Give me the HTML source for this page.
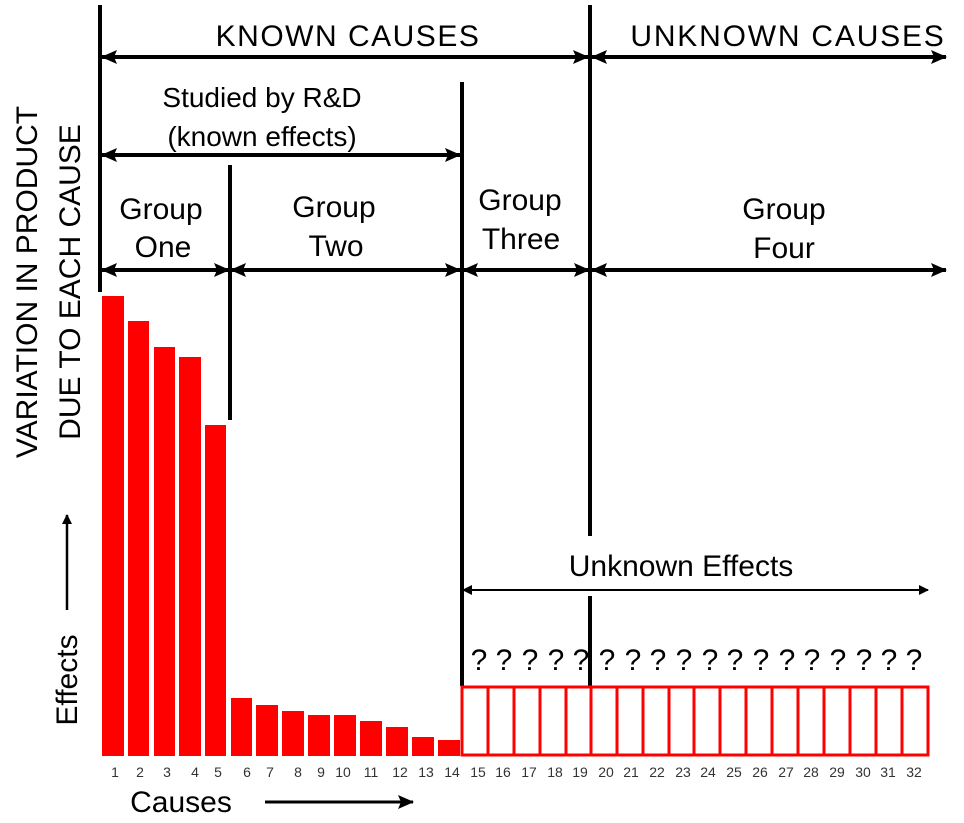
<!DOCTYPE html>
<html><head><style>body{margin:0;background:#fff}</style></head><body>
<svg width="964" height="818" xmlns="http://www.w3.org/2000/svg" font-family="Liberation Sans, sans-serif">
<defs>
<marker id="a" markerWidth="10" markerHeight="10" refX="9" refY="5" orient="auto-start-reverse" markerUnits="userSpaceOnUse"><path d="M0,0 L10,5 L0,10 z" fill="#000"/></marker>
<marker id="b" markerWidth="16" markerHeight="14" refX="15" refY="7" orient="auto-start-reverse" markerUnits="userSpaceOnUse"><path d="M0,0 L16,7 L0,14 L3,7 z" fill="#000"/></marker>
</defs>
<g stroke="#000" stroke-width="4">
<line x1="100" y1="5" x2="100" y2="292"/>
<line x1="462" y1="82" x2="462" y2="686"/>
<line x1="590" y1="5" x2="590" y2="536"/>
<line x1="590" y1="596" x2="590" y2="686"/>
<line x1="230" y1="165" x2="230" y2="420"/>
<line x1="102" y1="57" x2="588" y2="57" marker-start="url(#b)" marker-end="url(#b)"/>
<line x1="592" y1="57" x2="946" y2="57" marker-start="url(#b)" marker-end="url(#b)"/>
<line x1="102" y1="155" x2="460" y2="155" marker-start="url(#b)" marker-end="url(#b)"/>
<line x1="102" y1="270" x2="229" y2="270" marker-start="url(#b)" marker-end="url(#b)"/>
<line x1="231" y1="270" x2="460" y2="270" marker-start="url(#b)" marker-end="url(#b)"/>
<line x1="463" y1="270" x2="589" y2="270" marker-start="url(#b)" marker-end="url(#b)"/>
<line x1="592" y1="270" x2="946" y2="270" marker-start="url(#b)" marker-end="url(#b)"/>
<line x1="265" y1="802" x2="413" y2="802" stroke-width="3" marker-end="url(#b)"/>
</g>
<line x1="463" y1="590" x2="928" y2="590" stroke="#000" stroke-width="2" marker-start="url(#a)" marker-end="url(#a)"/>
<line x1="67" y1="610" x2="67" y2="515" stroke="#000" stroke-width="2.5" marker-end="url(#a)"/>
<g fill="#f00">
<rect x="102" y="296" width="22" height="460"/>
<rect x="128" y="321" width="21" height="435"/>
<rect x="154" y="347" width="21" height="409"/>
<rect x="179" y="357" width="22" height="399"/>
<rect x="205" y="425" width="21" height="331"/>
<rect x="231" y="698" width="21" height="58"/>
<rect x="256" y="705" width="22" height="51"/>
<rect x="282" y="711" width="22" height="45"/>
<rect x="308" y="715" width="22" height="41"/>
<rect x="334" y="715" width="22" height="41"/>
<rect x="360" y="721" width="22" height="35"/>
<rect x="386" y="727" width="22" height="29"/>
<rect x="412" y="737" width="22" height="19"/>
<rect x="438" y="740" width="22" height="16"/>
</g>
<g fill="none" stroke="#f00" stroke-width="3">
<rect x="462" y="687" width="466" height="68"/>
<path d="M488,687V755M514,687V755M540,687V755M566,687V755M591,687V755M617,687V755M643,687V755M669,687V755M694,687V755M720,687V755M746,687V755M772,687V755M798,687V755M824,687V755M850,687V755M876,687V755M902,687V755"/>
</g>
<g font-size="30" text-anchor="middle" fill="#000">
<text x="348" y="46" letter-spacing="1.5">KNOWN  CAUSES</text>
<text x="788" y="46" letter-spacing="1.8">UNKNOWN  CAUSES</text>
<text x="262" y="107" font-size="28">Studied by R&amp;D</text>
<text x="262" y="146" font-size="28">(known effects)</text>
<text x="161" y="219">Group</text><text x="163" y="257">One</text>
<text x="334" y="217">Group</text><text x="336" y="256">Two</text>
<text x="520" y="210">Group</text><text x="521" y="249">Three</text>
<text x="784" y="219">Group</text><text x="784" y="258">Four</text>
<text x="681" y="576">Unknown Effects</text>
<text x="181" y="812">Causes</text>
</g>
<g font-size="30" text-anchor="middle" fill="#000">
<text x="479" y="670">?</text><text x="504" y="670">?</text><text x="530" y="670">?</text><text x="556" y="670">?</text><text x="581" y="670">?</text><text x="607" y="670">?</text><text x="633" y="670">?</text><text x="658" y="670">?</text><text x="684" y="670">?</text><text x="710" y="670">?</text><text x="735" y="670">?</text><text x="761" y="670">?</text><text x="787" y="670">?</text><text x="812" y="670">?</text><text x="838" y="670">?</text><text x="864" y="670">?</text><text x="889" y="670">?</text><text x="914" y="670">?</text>
</g>
<g font-size="30" fill="#000" text-anchor="middle">
<text transform="translate(37,282) rotate(-90)">VARIATION IN PRODUCT</text>
<text transform="translate(80,282) rotate(-90)">DUE TO EACH CAUSE</text>
<text transform="translate(77,680) rotate(-90)">Effects</text>
</g>
<g font-size="14" fill="#333" text-anchor="middle">
<text x="115" y="777">1</text><text x="140" y="777">2</text><text x="167" y="777">3</text><text x="195" y="777">4</text><text x="218" y="777">5</text><text x="247" y="777">6</text><text x="270" y="777">7</text><text x="298" y="777">8</text><text x="321" y="777">9</text><text x="343" y="777">10</text><text x="371" y="777">11</text><text x="400" y="777">12</text><text x="426" y="777">13</text><text x="452" y="777">14</text>
<text x="478" y="777">15</text><text x="503" y="777">16</text><text x="529" y="777">17</text><text x="555" y="777">18</text><text x="580" y="777">19</text><text x="606" y="777">20</text><text x="631" y="777">21</text><text x="657" y="777">22</text><text x="683" y="777">23</text><text x="708" y="777">24</text><text x="734" y="777">25</text><text x="760" y="777">26</text><text x="786" y="777">27</text><text x="811" y="777">28</text><text x="837" y="777">29</text><text x="863" y="777">30</text><text x="888" y="777">31</text><text x="914" y="777">32</text>
</g>
</svg>
</body></html>
